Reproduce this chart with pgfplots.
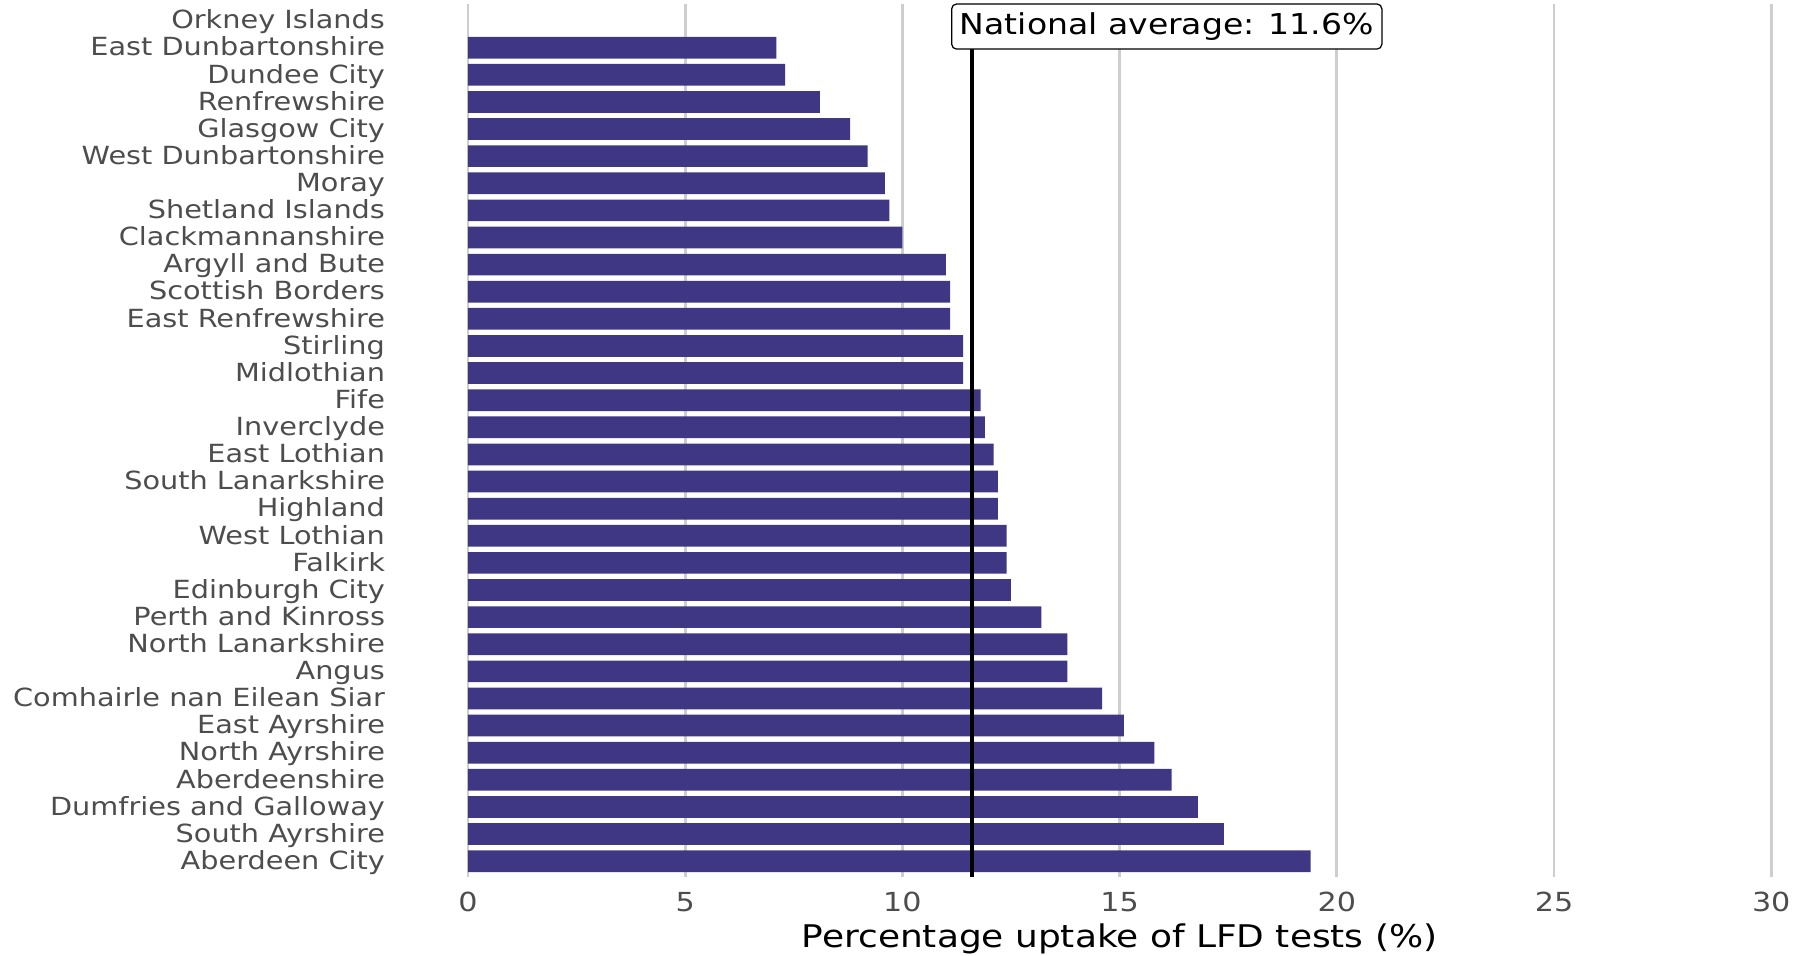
\documentclass[border=0pt]{standalone}
\usepackage{fontspec}
\setmainfont{DejaVu Sans}[FakeStretch=1.15]
\usepackage{pgfplots}
\pgfplotsset{compat=1.18}
\usepackage{pgfplotstable}

\definecolor{barcol}{RGB}{63,55,132}
\definecolor{gridcol}{RGB}{206,206,206}
\definecolor{tickcol}{RGB}{77,77,77}

% idx: 1 = Orkney Islands (no bar), 32 = Aberdeen City
\pgfplotstableread{
idx value
2 7.1
3 7.3
4 8.1
5 8.8
6 9.2
7 9.6
8 9.7
9 10.0
10 11.0
11 11.1
12 11.1
13 11.4
14 11.4
15 11.8
16 11.9
17 12.1
18 12.2
19 12.2
20 12.4
21 12.4
22 12.5
23 13.2
24 13.8
25 13.8
26 14.6
27 15.1
28 15.8
29 16.2
30 16.8
31 17.4
32 19.4
}\datatable

\begin{document}
\begin{tikzpicture}
\begin{axis}[
  scale only axis,
  width=521.4pt, height=349.3pt,
  xmin=0, xmax=30, ymin=0.4, ymax=32.6,
  y dir=reverse,
  axis line style={draw=none},
  xtick={0,5,...,30},
  ytick={1,...,32},
  yticklabels={Orkney Islands, East Dunbartonshire, Dundee City, Renfrewshire, Glasgow City, West Dunbartonshire, Moray, Shetland Islands, Clackmannanshire, Argyll and Bute, Scottish Borders, East Renfrewshire, Stirling, Midlothian, Fife, Inverclyde, East Lothian, South Lanarkshire, Highland, West Lothian, Falkirk, Edinburgh City, Perth and Kinross, North Lanarkshire, Angus, Comhairle nan Eilean Siar, East Ayrshire, North Ayrshire, Aberdeenshire, Dumfries and Galloway, South Ayrshire, Aberdeen City},
  major tick length=0pt,
  tick style={draw=none},
  xmajorgrids, ymajorgrids=false,
  major grid style={gridcol, line width=1.1pt},
  tick label style={text=tickcol},
  yticklabel style={font=\fontsize{10}{12}\selectfont, anchor=east, inner sep=0pt, text height=7.6pt, text depth=2.4pt, xshift=-33pt, yshift=-0.7pt},
  xticklabel style={font=\fontsize{10.5}{12}\selectfont, anchor=center, inner sep=0pt, yshift=-9.84pt},
  /pgf/number format/assume math mode=true,
  xlabel={Percentage uptake of LFD tests (\%)},
  xlabel style={font=\fontsize{12.5}{14}\selectfont, at={(axis description cs:0.5,0)}, anchor=center, text height=9.5pt, text depth=2.8pt, yshift=-24.6pt, text=black},
  clip=false,
]
\addplot[xbar, bar width=0.8, fill=barcol, draw=none] table[x=value, y=idx] {\datatable};
\addplot[black, line width=1.5pt] coordinates {(11.6,0.4) (11.6,32.6)};
\node[fill=white, draw=black, line width=0.5pt, rounded corners=2pt, anchor=west, inner xsep=3.3pt, text height=8.8pt, text depth=2.6pt, minimum height=17.4pt, font=\fontsize{11.5}{13}\selectfont] at (axis cs:11.12,1.22) {National average: 11.6\%};
\coordinate (BL) at (axis cs:0,32.6);
\coordinate (TR) at (axis cs:30,0.4);
\end{axis}
\pgfresetboundingbox
\path ([shift={(-187.2pt,-31.04pt)}]BL) rectangle ([shift={(8.7pt,1.72pt)}]TR);
\end{tikzpicture}
\end{document}
